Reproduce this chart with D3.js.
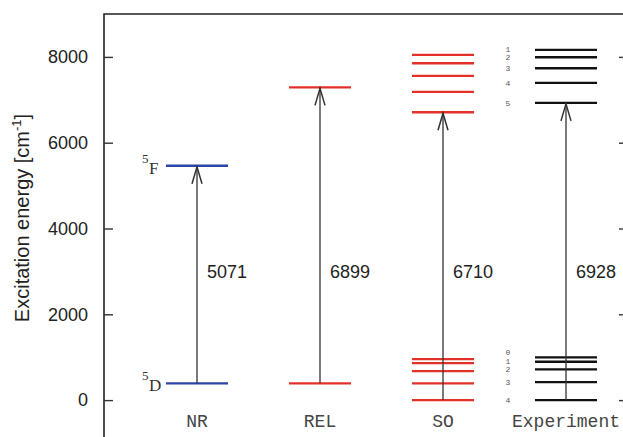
<!DOCTYPE html>
<html>
<head>
<meta charset="utf-8">
<script src="https://cdn.jsdelivr.net/npm/d3@7"></script>
<style>
  body { margin: 0; background: #fff; }
  svg { display: block; }
</style>
</head>
<body>
<div id="wrapper"></div>
<script>
// categories and colours
const categories = ["NR", "REL", "SO", "Experiment"];
const catColors = ["#2b45a6", "#e3312a", "#e3312a", "#111111"];

// energy levels in cm^-1, per category
const nrLevels = [390, 5461];
const relLevels = [390, 7289];
const soLevels = [0, 390, 676, 863, 956, 6710, 7184, 7557, 7853, 8047];
const expLevels = [0, 420, 716, 893, 996, 6928, 7394, 7736, 7993, 8163];
const expJ = ["4", "3", "2", "1", "0", "5", "4", "3", "2", "1"];

// transitions (arrows): lower level, upper level, label
const arrowFrom = [390, 390, 0, 0];
const arrowTo = [5461, 7289, 6710, 6928];
const arrowLabels = ["5071", "6899", "6710", "6928"];

// term symbols for NR
const termLevels = [390, 5461];
const termLetters = ["D", "F"];

const yTicks = [0, 2000, 4000, 6000, 8000];

function build() {
    const dimension = {
        width: 623,
        height: 437,
        margin: { top: 14, left: 104, right: -5 }
    };

    const svg = d3.select("#wrapper")
        .append("svg")
        .attr("width", dimension.width)
        .attr("height", dimension.height);

    const y = d3.scaleLinear()
        .domain([-1000, 9000])
        .range([443, 14]);

    const x = d3.scalePoint()
        .domain(categories)
        .range([197, 566]);

    const halfW = 31;
    const frameRight = dimension.width - dimension.margin.right;

    // frame
    svg.append("path")
        .attr("d", `M${dimension.margin.left},${dimension.height + 5}V${dimension.margin.top}H${frameRight}V${dimension.height + 5}`)
        .attr("fill", "none")
        .attr("stroke", "#222")
        .attr("stroke-width", 1.6);

    // left axis (ticks pointing inward)
    const leftAxis = svg.append("g")
        .attr("transform", `translate(${dimension.margin.left},0)`)
        .call(d3.axisLeft(y).tickValues(yTicks).tickFormat(d3.format("d"))
            .tickSizeInner(-9).tickSizeOuter(0).tickPadding(16));
    leftAxis.select(".domain").remove();
    leftAxis.selectAll(".tick line").attr("stroke", "#333").attr("stroke-width", 1.4);
    leftAxis.selectAll(".tick text")
        .attr("font-family", "'Liberation Sans', Arial, sans-serif")
        .attr("font-size", 18)
        .attr("fill", "#222");

    // right axis ticks
    const rightAxis = svg.append("g")
        .attr("transform", `translate(${frameRight},0)`)
        .call(d3.axisRight(y).tickValues(yTicks).tickSizeInner(-9).tickSizeOuter(0).tickFormat(""));
    rightAxis.select(".domain").remove();
    rightAxis.selectAll(".tick line").attr("stroke", "#333").attr("stroke-width", 1.4);

    // y label
    const yl = svg.append("text")
        .attr("transform", `translate(29,218) rotate(-90)`)
        .attr("text-anchor", "middle")
        .attr("font-family", "'Liberation Sans', Arial, sans-serif")
        .attr("font-size", 20)
        .attr("fill", "#222");
    yl.append("tspan").text("Excitation energy [cm");
    yl.append("tspan").attr("font-size", 13).attr("dy", -8).text("-1");
    yl.append("tspan").attr("dy", 8).text("]");

    // level lines
    const levelSets = [nrLevels, relLevels, soLevels, expLevels];
    const levelData = [];
    levelSets.forEach((levels, i) => {
        levels.forEach(v => levelData.push({ cat: categories[i], color: catColors[i], value: v }));
    });

    svg.append("g")
        .selectAll("line")
        .data(levelData)
        .enter()
        .append("line")
        .attr("x1", d => x(d.cat) - halfW)
        .attr("x2", d => x(d.cat) + halfW)
        .attr("y1", d => y(d.value))
        .attr("y2", d => y(d.value))
        .attr("stroke", d => d.color)
        .attr("stroke-width", 2.4);

    // arrows
    const arrows = categories.map((c, i) => ({
        cat: c, from: arrowFrom[i], to: arrowTo[i], label: arrowLabels[i]
    }));

    const ag = svg.append("g")
        .attr("stroke", "#333")
        .attr("stroke-width", 1.3)
        .attr("fill", "none");
    ag.selectAll("line")
        .data(arrows)
        .enter()
        .append("line")
        .attr("x1", d => x(d.cat))
        .attr("x2", d => x(d.cat))
        .attr("y1", d => y(d.from))
        .attr("y2", d => y(d.to));
    ag.selectAll("path")
        .data(arrows)
        .enter()
        .append("path")
        .attr("stroke-width", 1.5)
        .attr("d", d => {
            const cx = x(d.cat), ty = y(d.to) + 1;
            return `M${cx - 5},${ty + 17}L${cx},${ty}L${cx + 5},${ty + 17}`;
        });

    svg.append("g")
        .selectAll("text")
        .data(arrows)
        .enter()
        .append("text")
        .attr("x", d => x(d.cat) + 10)
        .attr("y", y(3000))
        .attr("dy", "0.35em")
        .attr("font-family", "'Liberation Sans', Arial, sans-serif")
        .attr("font-size", 18)
        .attr("fill", "#222")
        .text(d => d.label);

    // category labels
    svg.append("g")
        .selectAll("text")
        .data(categories)
        .enter()
        .append("text")
        .attr("x", d => x(d))
        .attr("y", 427)
        .attr("text-anchor", "middle")
        .attr("font-family", "'Liberation Mono', 'Courier New', monospace")
        .attr("font-size", 18)
        .attr("fill", "#444")
        .text(d => d);

    // term symbols for NR
    const terms = termLevels.map((v, i) => ({ value: v, letter: termLetters[i] }));
    const tg = svg.append("g")
        .attr("font-family", "'Liberation Serif', 'Times New Roman', serif")
        .attr("fill", "#333");
    tg.selectAll("text.sup")
        .data(terms)
        .enter()
        .append("text")
        .attr("class", "sup")
        .attr("x", x("NR") - halfW - 24)
        .attr("y", d => y(d.value) - 3)
        .attr("font-size", 13)
        .text("5");
    tg.selectAll("text.let")
        .data(terms)
        .enter()
        .append("text")
        .attr("class", "let")
        .attr("x", x("NR") - halfW - 17)
        .attr("y", d => y(d.value) + 8)
        .attr("font-size", 17)
        .text(d => d.letter);

    // J labels for experiment, nudged apart if crowded
    const jl = expLevels.map((v, i) => ({ value: v, j: expJ[i], ly: y(v) }));
    const lowerJ = jl.slice(0, 5), upperJ = jl.slice(5);
    const gap = 8.5;
    [lowerJ, upperJ].forEach(group => {
        group.sort((a, b) => b.ly - a.ly);
        for (let k = 1; k < group.length; k++) {
            if (group[k - 1].ly - group[k].ly < gap) group[k].ly = group[k - 1].ly - gap;
        }
    });
    svg.append("g")
        .selectAll("text")
        .data(jl)
        .enter()
        .append("text")
        .attr("x", x("Experiment") - 58)
        .attr("y", d => d.ly)
        .attr("dy", "0.35em")
        .attr("text-anchor", "middle")
        .attr("font-family", "'Liberation Mono', 'Courier New', monospace")
        .attr("font-size", 8)
        .attr("fill", "#555")
        .text(d => d.j);
}

build();
</script>
</body>
</html>
